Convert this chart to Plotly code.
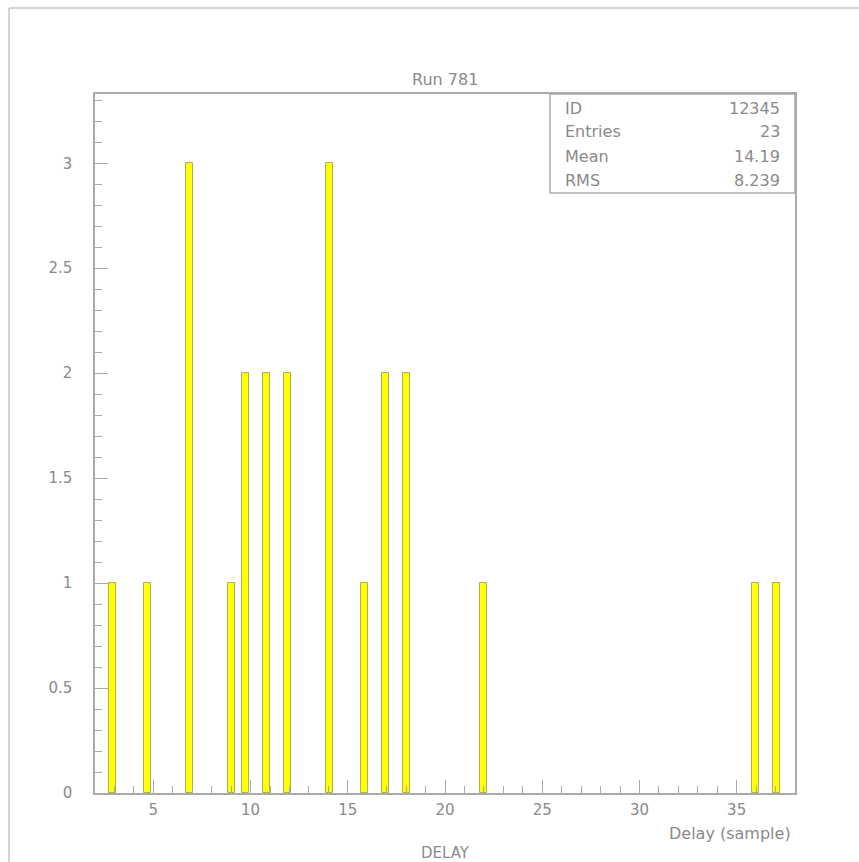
import plotly.graph_objects as go

# Histogram bin centres (DELAY, samples) and counts per bin
bin_centers = [2.9, 4.7, 6.86, 9.02, 9.74, 10.82, 11.9, 14.06, 15.86, 16.94, 18.02, 21.98, 35.98, 37.06]
counts = [1, 1, 3, 1, 2, 2, 2, 3, 1, 2, 2, 1, 1, 1]

# Statistics box
stat_names = ["ID", "Entries", "Mean", "RMS"]
stat_values = ["12345", "23", "14.19", "8.239"]

title_text = "Run 781"
x_title = "Delay (sample)"
hist_name = "DELAY"

TXT = "#8a8a8a"
AX = "#aaaaaa"
FONT = "DejaVu Sans"

fig = go.Figure()
fig.add_trace(go.Bar(
    x=bin_centers, y=counts, width=0.38,
    marker=dict(color="#ffff00", line=dict(color="#b0b050", width=1)),
    showlegend=False, hoverinfo="x+y",
))

W, H = 859, 862
L, R, T, B = 95, 64, 94, 69
pw, ph = W - L - R, H - T - B

def px(xp):
    return (xp - L) / pw

def py(yp):
    return (H - B - yp) / ph

fig.update_layout(
    width=W, height=H,
    margin=dict(l=L, r=R, t=T, b=B),
    paper_bgcolor="white", plot_bgcolor="white",
    font=dict(family=FONT, size=15, color=TXT),
    bargap=0,
    xaxis=dict(
        range=[2, 38], tick0=0, dtick=5, ticks="inside", ticklen=13, tickwidth=1,
        tickcolor=AX, showgrid=False, zeroline=False, showline=True, linecolor=AX,
        linewidth=1.5, mirror=True, ticklabelstandoff=2,
        tickfont=dict(family=FONT, size=15, color=TXT),
        minor=dict(dtick=1, tick0=0, ticks="inside", ticklen=7, tickcolor=AX, showgrid=False),
    ),
    yaxis=dict(
        range=[0, 3.33], tick0=0, dtick=0.5, ticks="inside", ticklen=13, tickwidth=1,
        tickcolor=AX, showgrid=False, zeroline=False, showline=True, linecolor=AX,
        linewidth=1.5, mirror=True, ticklabelstandoff=18,
        tickfont=dict(family=FONT, size=15, color=TXT),
        minor=dict(dtick=0.1, tick0=0, ticks="inside", ticklen=7, tickcolor=AX, showgrid=False),
    ),
)

shapes = [
    # stats box
    dict(type="rect", xref="paper", yref="paper", x0=px(550), x1=1, y0=py(193), y1=1,
         line=dict(color=AX, width=1.5), fillcolor="white", layer="above"),
    # outer canvas frame (left and top)
    dict(type="line", xref="paper", yref="paper", x0=px(9), x1=px(9), y0=py(8), y1=py(900),
         line=dict(color="#c4c4c4", width=1.5)),
    dict(type="line", xref="paper", yref="paper", x0=px(9), x1=px(900), y0=py(8), y1=py(8),
         line=dict(color="#c4c4c4", width=1.5)),
]
fig.update_layout(shapes=shapes)

ann = []
row_y = [108, 132, 156, 180]
for name, val, yy in zip(stat_names, stat_values, row_y):
    ann.append(dict(xref="paper", yref="paper", x=px(563), y=py(yy), text=name,
                    xanchor="left", yanchor="middle", showarrow=False,
                    font=dict(family=FONT, size=16, color=TXT)))
    ann.append(dict(xref="paper", yref="paper", x=px(782), y=py(yy), text=val,
                    xanchor="right", yanchor="middle", showarrow=False,
                    font=dict(family=FONT, size=16, color=TXT)))

ann.append(dict(xref="paper", yref="paper", x=0.5, y=py(80), text=title_text,
                xanchor="center", yanchor="middle", showarrow=False,
                font=dict(family=FONT, size=16, color=TXT)))
ann.append(dict(xref="paper", yref="paper", x=px(793), y=py(833), text=x_title,
                xanchor="right", yanchor="middle", showarrow=False,
                font=dict(family=FONT, size=16, color=TXT)))
ann.append(dict(xref="paper", yref="paper", x=0.5, y=py(853), text=hist_name,
                xanchor="center", yanchor="middle", showarrow=False,
                font=dict(family=FONT, size=15, color=TXT)))
fig.update_layout(annotations=ann)

fig.write_html("out.html")
